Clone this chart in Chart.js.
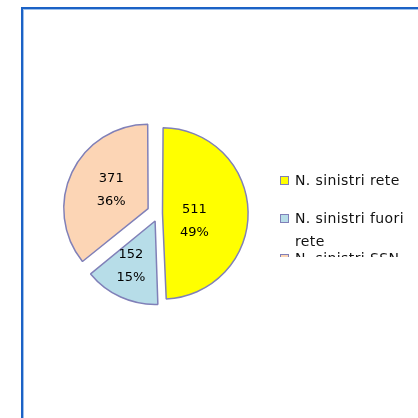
<!DOCTYPE html>
<html><head><meta charset="utf-8">
<script src="https://cdn.jsdelivr.net/npm/chart.js@4"></script>
<style>
html,body{margin:0;padding:0;background:#fff;width:418px;height:418px;overflow:hidden;font-family:"DejaVu Sans",sans-serif;}
#frame{position:absolute;left:21px;top:7px;width:600px;height:600px;border-left:2px solid #1b62c6;border-top:2px solid #1b62c6;box-shadow:inset 1px 1px 0 #9dc0ec;}
#wrap{position:absolute;left:53px;top:108px;width:211px;height:211px;}
#legend{position:absolute;left:0;top:0;width:418px;height:257px;overflow:hidden;pointer-events:none;}
.item{position:absolute;left:280px;width:140px;font-size:14px;line-height:23px;color:#111;letter-spacing:0.4px;}
.box{position:absolute;left:0;top:7.5px;width:7px;height:7px;border:1px solid #8080b8;}
.txt{margin-left:15px;}
</style></head>
<body>
<div id="frame"></div>
<div id="wrap"><canvas id="c" width="211" height="211"></canvas></div>
<div id="legend"></div>
<script>
const categories = ['N. sinistri rete', 'N. sinistri fuori rete', 'N. sinistri SSN'];
const seriesValues = [511, 152, 371];

const sliceColors = ['#ffff00', '#b7dde8', '#fcd5b5'];
const sliceOffsets = [16, 33, 46];
const labelFrac = [0.44, 0.7, 0.64];
const labelDx = [0, -4, 0];
const labelDy = [8, 0, -1];

const total = seriesValues.reduce((a, b) => a + b, 0);

const labelPlugin = {
  id: 'sliceLabels',
  afterDatasetsDraw(chart) {
    const ctx = chart.ctx;
    const meta = chart.getDatasetMeta(0);
    ctx.save();
    ctx.font = '13px "DejaVu Sans", sans-serif';
    ctx.fillStyle = '#000';
    ctx.textAlign = 'center';
    ctx.textBaseline = 'middle';
    meta.data.forEach((arc, i) => {
      const p = arc.getProps(['x', 'y', 'startAngle', 'endAngle', 'outerRadius'], true);
      const mid = (p.startAngle + p.endAngle) / 2;
      const d = labelFrac[i] * p.outerRadius;
      const x = p.x + Math.cos(mid) * d + labelDx[i];
      const y = p.y + Math.sin(mid) * d + labelDy[i];
      const pct = Math.round(seriesValues[i] / total * 100) + '%';
      ctx.fillText(String(seriesValues[i]), x, y - 11.5);
      ctx.fillText(pct, x, y + 11.5);
    });
    ctx.restore();
  }
};

new Chart(document.getElementById('c'), {
  type: 'pie',
  data: {
    labels: categories,
    datasets: [{
      data: seriesValues,
      backgroundColor: sliceColors,
      borderColor: '#8080b8',
      borderWidth: 1.5,
      hoverBorderWidth: 1.5,
      offset: sliceOffsets,
      hoverOffset: 0
    }]
  },
  options: {
    responsive: false,
    animation: false,
    layout: { padding: 0 },
    plugins: { legend: { display: false }, tooltip: { enabled: false } }
  },
  plugins: [labelPlugin]
});

const legend = document.getElementById('legend');
const rowTops = [168.5, 206.5, 246.5];
categories.forEach((c, i) => {
  const item = document.createElement('div');
  item.className = 'item';
  item.style.top = rowTops[i] + 'px';
  const box = document.createElement('div');
  box.className = 'box';
  box.style.background = sliceColors[i];
  const txt = document.createElement('div');
  txt.className = 'txt';
  txt.textContent = c;
  item.appendChild(box);
  item.appendChild(txt);
  legend.appendChild(item);
});
</script>
</body></html>
